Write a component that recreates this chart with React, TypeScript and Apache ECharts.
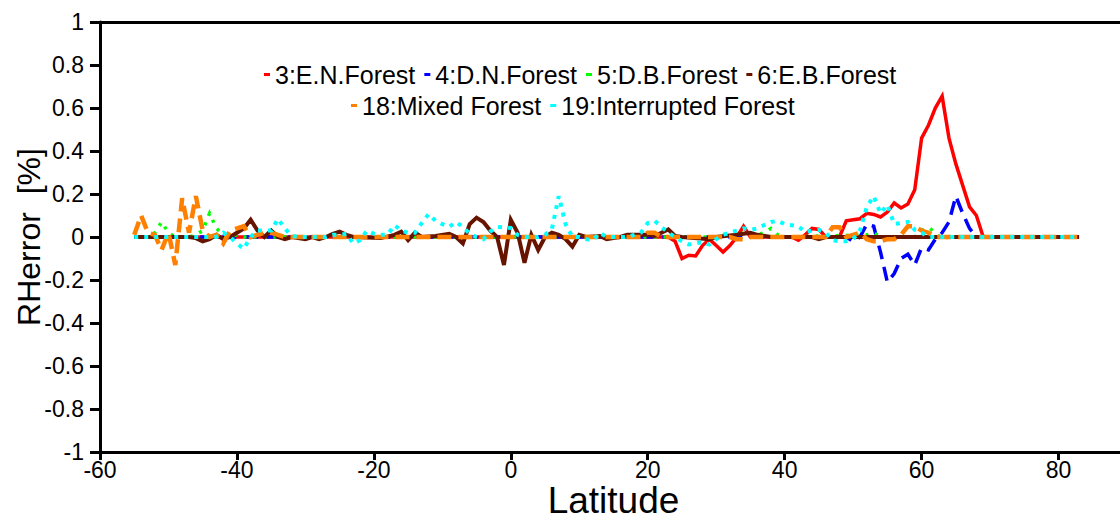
import React, { useEffect, useRef } from "react";
import * as echarts from "echarts";

const FONT = "'Liberation Sans', Arial, sans-serif";

// 3:E.N.Forest
const enLat = [-55, 23, 24, 25, 26, 27, 28, 29, 30, 31, 32, 33, 34, 35, 41, 42, 43, 44, 45, 46, 48, 49, 50, 51, 52, 53, 54, 55, 56, 57, 58, 59, 60, 61, 62, 63, 64, 65, 66, 67, 68, 69];
const enVal = [0, 0, -0.02, -0.1, -0.085, -0.088, -0.04, -0.01, -0.04, -0.07, -0.04, 0, 0.05, 0, 0, -0.015, 0.01, 0.04, 0.035, 0, 0, 0.075, 0.08, 0.085, 0.11, 0.105, 0.093, 0.116, 0.158, 0.135, 0.153, 0.22, 0.46, 0.52, 0.6, 0.655, 0.46, 0.34, 0.24, 0.14, 0.1, 0];

// 4:D.N.Forest
const dnLat = [-55, 49, 50, 51, 52, 53, 54, 55, 56, 57, 58, 59, 60, 61, 62, 63, 64, 65, 66, 67, 68, 83];
const dnVal = [0, 0, -0.02, 0, 0.06, 0.05, -0.07, -0.21, -0.17, -0.1, -0.08, -0.13, -0.05, -0.06, -0.01, 0.02, 0.07, 0.19, 0.11, 0.04, 0, 0];

// 5:D.B.Forest
const dbLat = [-55, -53, -52, -51, -50, -49, -47, -46, -45, -44, -43, -42, -41, -40, -39, 30, 31, 32, 33, 34, 35, 36, 37, 38, 39, 40, 52, 53, 54, 59, 60, 61, 62, 63, 64, 83];
const dbVal = [0, 0, 0.02, 0.07, 0.02, 0, 0, 0.01, 0.03, 0.11, 0.04, 0.01, 0, 0.01, 0, 0, 0.01, 0.02, 0, 0.02, 0.01, 0.01, 0.02, 0.04, 0.01, 0, 0.01, 0.02, 0, 0, 0.03, 0.045, 0.02, -0.01, 0, 0];

// 6:E.B.Forest
const ebLat = [-55, -47, -46, -45, -44, -43, -42, -41, -40, -39, -38, -37, -36, -35, -34, -33, -32, -30, -29, -28, -27, -26, -25, -24, -23, -19, -17, -16, -15, -14, -13, -11, -9, -8, -7, -6, -5, -4, -3, -2, -1, 0, 1, 2, 3, 4, 5, 6, 7, 8, 9, 10, 11, 13, 14, 15, 16, 17, 20, 21, 22, 23, 24, 25, 29, 30, 33, 34, 35, 36, 38, 44, 45, 46, 83];
const ebVal = [0, 0, -0.005, -0.02, -0.01, 0.01, -0.01, 0, 0.02, 0.04, 0.08, 0.03, 0, 0.03, 0, -0.01, 0, -0.01, 0, -0.01, 0, 0.015, 0.025, 0.01, 0, -0.005, 0.01, 0.025, -0.015, 0.02, 0, 0.005, 0.015, 0, -0.03, 0.06, 0.09, 0.07, 0.03, 0, -0.13, 0.08, 0.02, -0.12, 0.01, -0.06, 0, 0.02, 0.01, -0.01, -0.045, 0.01, 0, 0.005, -0.01, -0.005, 0, 0.01, 0.01, 0.005, 0.02, 0.035, 0.005, 0, -0.01, 0, 0.01, 0.015, 0.02, 0.01, 0, 0, -0.01, 0, 0];

// 18:Mixed Forest
const mfLat = [-55, -54, -53, -52, -51, -50, -49, -48, -47, -46, -45, -44, -43, -42, -41, -40, -39, -38, -36, -35, -34, -33, 19, 20, 21, 22, 32, 33, 34, 35, 46, 47, 48, 49, 50, 51, 52, 53, 54, 55, 56, 57, 58, 59, 60, 61, 62, 83];
const mfVal = [0.01, 0.1, 0.02, 0.01, -0.06, 0.02, -0.13, 0.18, 0.02, 0.19, 0.03, 0, 0.01, -0.03, 0.03, 0.04, 0.05, 0, 0.02, 0.02, 0.01, 0, 0, 0.02, 0.02, 0, 0, -0.01, -0.01, 0, 0, 0.045, 0.045, 0, 0.01, 0.02, -0.01, -0.02, -0.02, -0.01, -0.01, 0.01, 0.05, 0.05, 0.03, 0.02, 0, 0];

// 19:Interrupted Forest
const ifLat = [-55, -43, -42, -41, -40, -39, -38, -37, -36, -35, -34, -33, -32, -31, -27, -26, -25, -24, -23, -22, -21, -20, -19, -18, -17, -16, -15, -14, -13, -12, -11, -10, -9, -8, -7, -6, -5, -4, -3, -2, -1, 0, 1, 2, 4, 5, 6, 7, 8, 9, 10, 11, 12, 13, 14, 17, 18, 19, 20, 21, 22, 23, 24, 25, 26, 27, 28, 29, 30, 31, 32, 33, 34, 35, 36, 37, 38, 39, 40, 41, 42, 43, 44, 45, 46, 47, 48, 49, 50, 51, 52, 53, 54, 55, 56, 57, 58, 59, 60, 61, 83];
const ifVal = [0, 0, 0.02, 0, -0.03, -0.055, 0, 0.03, 0.03, 0.03, 0.085, 0.04, 0.005, 0, 0, 0.01, 0.01, 0.015, -0.03, -0.015, 0.03, 0.015, 0.01, 0.01, 0.055, 0.03, 0.02, 0.02, 0.065, 0.107, 0.075, 0.06, 0.047, 0.07, 0.047, 0.015, 0, -0.01, 0.025, 0.047, 0.045, 0.042, 0.01, 0, 0, 0.01, 0.037, 0.19, 0.06, 0, 0, -0.01, -0.015, 0.02, 0, 0, 0.01, 0.02, 0.065, 0.075, 0.047, 0.02, 0, -0.02, -0.035, -0.03, -0.023, -0.035, -0.01, 0.01, 0.02, 0.03, 0.04, 0.033, 0.04, 0.055, 0.07, 0.075, 0.06, 0.055, 0.05, 0.023, 0.03, 0.033, 0.02, -0.015, -0.02, -0.02, -0.01, 0.03, 0.14, 0.19, 0.11, 0.15, 0.06, 0.065, 0.07, 0.033, 0.02, 0, 0];

const seriesNames = ["3:E.N.Forest", "4:D.N.Forest", "5:D.B.Forest", "6:E.B.Forest", "18:Mixed Forest", "19:Interrupted Forest"];

const zip = (a: number[], b: number[]) => a.map((x, i) => [x, b[i]]);

export default function App() {
  const ref = useRef<HTMLDivElement>(null);
  useEffect(() => {
    if (!ref.current) return;
    document.body.style.margin = "0";
    document.body.style.overflow = "hidden";
    document.documentElement.style.overflow = "hidden";
    const chart = echarts.init(ref.current, undefined, { renderer: "svg", width: 1120, height: 523 });
    const mk = (name: string, lat: number[], val: number[], color: string, width: number, type: any) => ({
      name,
      type: "line",
      data: zip(lat, val),
      showSymbol: false,
      symbol: "none",
      color,
      itemStyle: { color },
      lineStyle: { color, width, type, cap: "butt", join: "miter" },
    });
    const legendCommon = {
      icon: "rect",
      itemWidth: 6,
      itemHeight: 3,
      itemGap: 9,
      textStyle: { fontSize: 25, color: "#000", fontFamily: FONT },
    };
    chart.setOption({
      animation: false,
      backgroundColor: "#fff",
      grid: { left: 100, width: 1027, top: 22, height: 430, outerBoundsMode: "none", containLabel: false },
      legend: [
        { ...legendCommon, data: seriesNames.slice(0, 4), left: 259, top: 57 },
        { ...legendCommon, data: seriesNames.slice(4), left: 346, top: 88 },
      ],
      xAxis: [
        {
          type: "value",
          min: -60,
          max: 90,
          interval: 20,
          position: "bottom",
          name: "Latitude",
          nameLocation: "middle",
          nameGap: 30,
          nameMoveOverlap: false,
          nameTextStyle: { fontSize: 37, color: "#000", fontFamily: FONT },
          axisLine: { show: true, onZero: false, lineStyle: { color: "#000", width: 3 } },
          axisTick: { show: true, length: 8, lineStyle: { color: "#000", width: 3 } },
          axisLabel: { fontSize: 23, color: "#000", margin: 6, showMaxLabel: false, fontFamily: FONT },
          splitLine: { show: false },
        },
        {
          type: "value",
          min: -60,
          max: 90,
          position: "top",
          axisLine: { show: true, onZero: false, lineStyle: { color: "#000", width: 3 } },
          axisTick: { show: false },
          axisLabel: { show: false },
          splitLine: { show: false },
        },
      ],
      yAxis: {
        type: "value",
        min: -1,
        max: 1,
        interval: 0.2,
        name: "RHerror  [%]",
        nameLocation: "middle",
        nameGap: 55,
        nameMoveOverlap: false,
        nameTextStyle: { fontSize: 32, color: "#000", fontFamily: FONT },
        axisLine: { show: true, onZero: false, lineStyle: { color: "#000", width: 3 } },
        axisTick: { show: true, length: 10, lineStyle: { color: "#000", width: 3 } },
        axisLabel: { fontSize: 23, color: "#000", margin: 16, fontFamily: FONT },
        splitLine: { show: false },
      },
      series: [
        mk(seriesNames[0], enLat, enVal, "#ff0000", 3.5, "solid"),
        mk(seriesNames[1], dnLat, dnVal, "#0000ff", 3.5, [14, 8]),
        mk(seriesNames[2], dbLat, dbVal, "#00ff00", 3.5, [3, 7]),
        mk(seriesNames[3], ebLat, ebVal, "#661400", 4, "solid"),
        mk(seriesNames[4], mfLat, mfVal, "#ff8000", 4.5, [14, 7]),
        mk(seriesNames[5], ifLat, ifVal, "#00ffff", 4, [4, 6]),
      ],
    });
    return () => chart.dispose();
  }, []);
  return <div ref={ref} style={{ position: "absolute", left: 0, top: 0, width: 1120, height: 523, overflow: "hidden" }} />;
}
